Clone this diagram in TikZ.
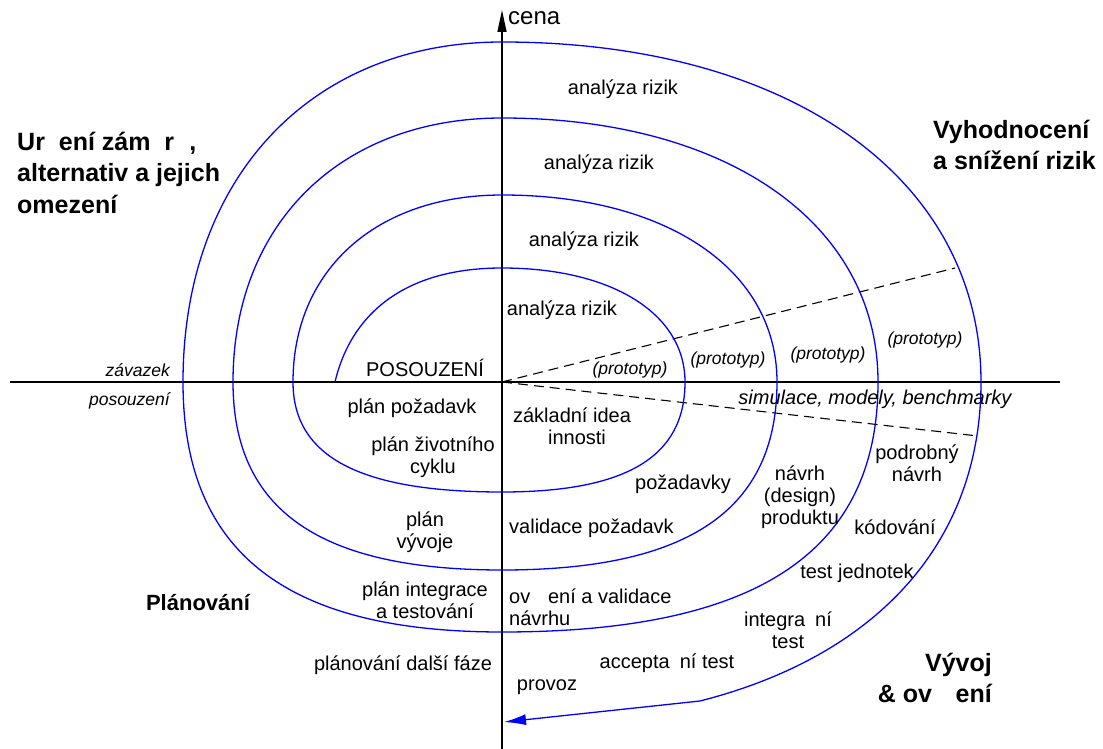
\documentclass[tikz,border=0pt]{standalone}
\usepackage{fontspec}
\setmainfont{Liberation Sans}
\usetikzlibrary{arrows.meta}
\begin{document}
\begin{tikzpicture}[x=1pt,y=-1pt,
  spiral/.style={draw=blue,line width=1.3pt},
  axis/.style={draw=black,line width=1.3pt},
  dashline/.style={draw=black,line width=1.1pt,dash pattern=on 10pt off 6pt},
  lbl/.style={inner sep=0pt,font=\fontsize{20}{22}\selectfont,align=center},
  ilbl/.style={inner sep=0pt,font=\fontsize{17.5}{20}\selectfont\itshape},
  simlbl/.style={inner sep=0pt,font=\fontsize{20}{22}\selectfont\itshape},
  hd/.style={inner sep=0pt,font=\fontsize{25}{31.5}\selectfont\bfseries}]
\useasboundingbox (0,0) rectangle (1103,749);
% axes
\coordinate (hl) at (10,382);
\coordinate (hr) at (1060,382);
\coordinate (vb) at (502,749);
\coordinate (vt) at (502,10);
\coordinate (o) at (502,382);
\coordinate (d1) at (955,268);
\coordinate (d2) at (978,436);
\draw[axis] (hl) -- (hr);
\draw[axis,-{Triangle[length=22pt,width=9pt]}] (vb) -- (vt);
\draw[dashline] (o) -- (d1);
\draw[dashline] (o) -- (d2);
% spiral
\coordinate (spend) at (504,722);
\draw[spiral,-{Latex[length=22pt,width=11pt]}]
  (335,382) .. controls (350,318) and (400,268) .. (502,268)
  .. controls (611.8,268) and (685,313.6) .. (685,382)
  .. controls (685,456.8) and (626.4,492) .. (502,492)
  .. controls (359.9,492) and (293,456.8) .. (293,382)
  .. controls (293,269.8) and (376.6,195) .. (502,195)
  .. controls (667,195) and (777,269.8) .. (777,382)
  .. controls (777,509.8) and (689,570) .. (502,570)
  .. controls (319.1,570) and (233,509.8) .. (233,382)
  .. controls (233,223.6) and (340.6,118) .. (502,118)
  .. controls (727.6,118) and (878,223.6) .. (878,382)
  .. controls (878,552) and (757.7,632) .. (502,632)
  .. controls (285.1,632) and (183,552) .. (183,382)
  .. controls (183,178) and (310.6,42) .. (502,42)
  .. controls (789.4,42) and (981,178) .. (981,382)
  .. controls (981,540) and (880,655) .. (700,701)
  -- (spend);
% headings
\node[hd,align=left,anchor=west] (goals) at (17,172) {Ur\phantom{č}ení zám\phantom{ě}r\phantom{ů},\\alternativ a jejich\\omezení};
\node[hd,align=left,anchor=west] (eval) at (933,145) {Vyhodnocení\\ a snížení rizik};
\node[hd,font=\fontsize{22}{28}\selectfont\bfseries] (plan) at (198,603) {Plánování};
\node[hd,align=right,anchor=east] (dev) at (992,678) {Vývoj\\\& ov\phantom{ěř}ení};
% labels
\node[lbl,anchor=west,font=\fontsize{24}{26}\selectfont] (cena) at (508,18) {cena};
\node[lbl] (risk1) at (623,89) {analýza rizik};
\node[lbl] (risk2) at (599,164) {analýza rizik};
\node[lbl] (risk3) at (584,241) {analýza rizik};
\node[lbl] (risk4) at (562,310) {analýza rizik};
\node[ilbl,anchor=east] (zav) at (170,370) {závazek};
\node[ilbl,anchor=east] (pos) at (170,401) {posouzení};
\node[lbl] (POS) at (425,368) {POSOUZENÍ};
\node[ilbl] (pr1) at (630,370) {(prototyp)};
\node[ilbl] (pr2) at (728,360) {(prototyp)};
\node[ilbl] (pr3) at (828,355) {(prototyp)};
\node[ilbl] (pr4) at (925,340) {(prototyp)};
\node[simlbl] (sim) at (875,399) {simulace, modely, benchmarky};
\node[lbl] (planpoz) at (412,408) {plán požadavk};
\node[lbl] (planziv) at (433,457) {plán životního\\cyklu};
\node[lbl] (zakl) at (572,426) {základní idea\\\phantom{č}innosti};
\node[lbl] (pozad) at (683,484) {požadavky};
\node[lbl] (navrh) at (800,497) {návrh\\(design)\\produktu};
\node[lbl] (podr) at (917,463) {podrobný\\návrh};
\node[lbl] (kod) at (895,527) {kódování};
\node[lbl] (testj) at (857,573) {test jednotek};
\node[lbl] (planvyv) at (425,532) {plán\\vývoje};
\node[lbl,anchor=west] (valid) at (509,528) {validace požadavk};
\node[lbl] (planint) at (425,600) {plán integrace\\a testování};
\node[lbl,anchor=west,align=left] (over) at (509,607) {ov\phantom{ěř}ení a validace\\návrhu};
\node[lbl] (integr) at (788,630) {integra\phantom{č}ní\\test};
\node[lbl] (accept) at (667,663) {accepta\phantom{č}ní test};
\node[lbl] (planfaze) at (403,665) {plánování další fáze};
\node[lbl] (provoz) at (547,687) {provoz};
\end{tikzpicture}
\end{document}
